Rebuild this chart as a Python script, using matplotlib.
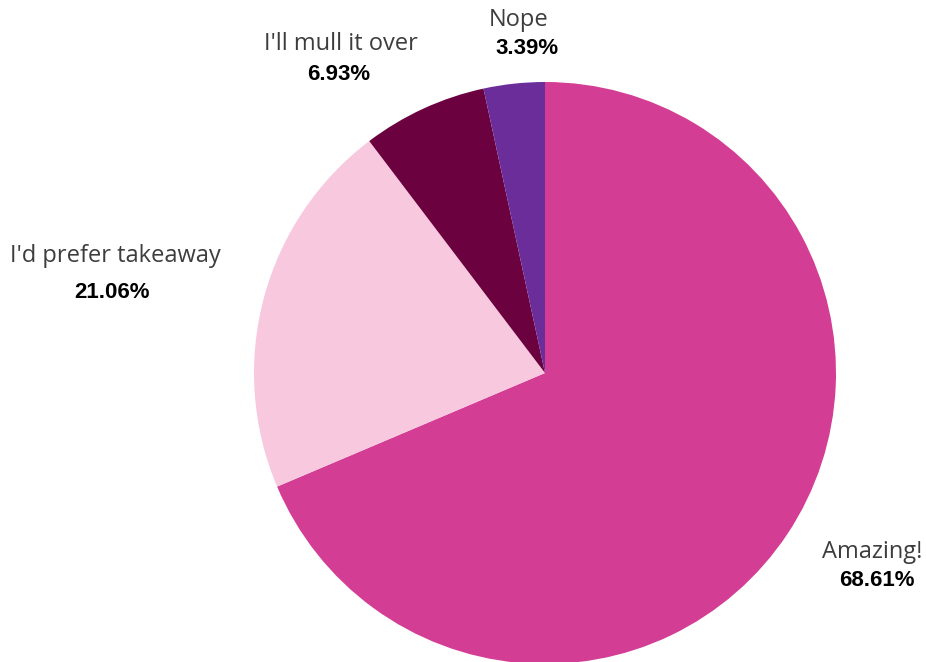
import matplotlib.pyplot as plt

# Données
labels = ["Amazing!", "I'd prefer takeaway", "I'll mull it over", "Nope"]
values = [68.61, 21.06, 6.93, 3.39]
colors = ["#D43D94", "#F8C8DF", "#6B013F", "#6B2D99"]

fig = plt.figure(figsize=(9.26, 6.62), dpi=100)
ax = fig.add_axes([0, 0, 1, 1])

ax.pie(values, colors=colors, startangle=90, counterclock=False,
       center=(545, 289), radius=291, frame=True,
       wedgeprops=dict(linewidth=0))
ax.set_xlim(0, 926)
ax.set_ylim(0, 662)
ax.set_aspect("equal")
ax.axis("off")

# position (x, y) du nom et du pourcentage pour chaque part
name_pos = [(872, 110), (115, 406), (341, 618), (519, 642)]
pct_pos = [(877, 82), (112, 369), (339, 588), (527, 614)]

for lab, v, (nx, ny), (px, py) in zip(labels, values, name_pos, pct_pos):
    ax.text(nx, ny, lab, ha="center", va="center", fontsize=17,
            family="Open Sans", color="#3d3d3d")
    ax.text(px, py, f"{v:.2f}%", ha="center", va="center", fontsize=16,
            family="Liberation Sans", fontweight="bold", color="black")

fig.savefig("out.png", dpi=100)
